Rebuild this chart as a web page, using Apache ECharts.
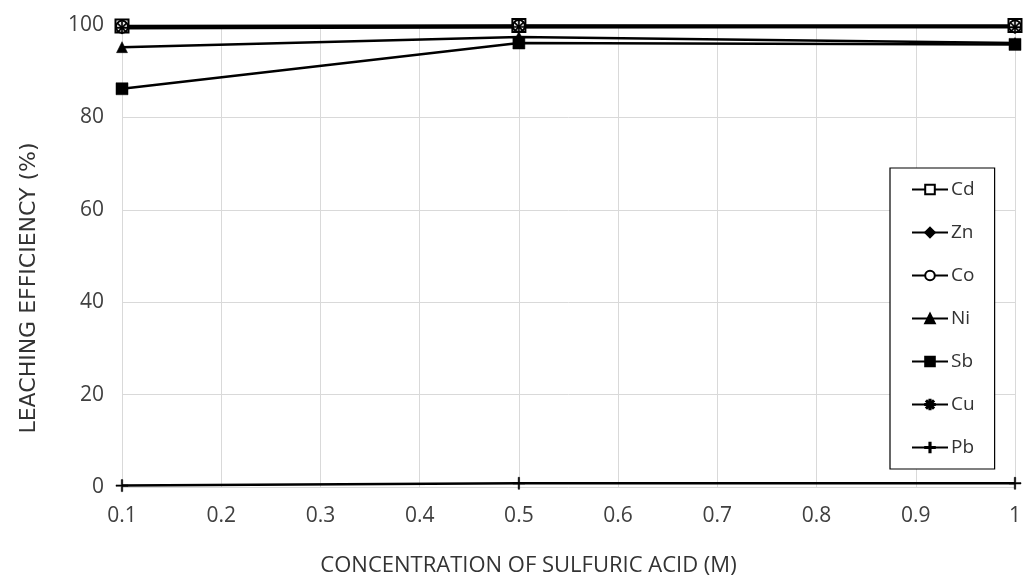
<!DOCTYPE html>
<html>
<head>
<meta charset="utf-8">
<script src="https://cdn.jsdelivr.net/npm/echarts@6/dist/echarts.min.js"></script>
<style>html,body{margin:0;padding:0;background:#fff}#c{width:1024px;height:582px}</style>
</head>
<body>
<div id="c"></div>
<script>
const xValues = [0.1, 0.5, 1];
const seriesNames = ['Cd', 'Zn', 'Co', 'Ni', 'Sb', 'Cu', 'Pb'];
const cd = [99.8, 99.9, 99.9];
const zn = [99.3, 99.5, 99.6];
const co = [99.6, 99.8, 99.7];
const ni = [95.2, 97.4, 96.1];
const sb = [86.2, 96.1, 95.8];
const cu = [99.4, 99.6, 99.5];
const pb = [0.3, 0.8, 0.8];
const yTicks = [0, 20, 40, 60, 80, 100];

const plus = 'path://M-0.12,-1H0.12V-0.12H1V0.12H0.12V1H-0.12V0.12H-1V-0.12H-0.12Z';
const star = 'path://M-0.12,-1H0.12V-0.12H1V0.12H0.12V1H-0.12V0.12H-1V-0.12H-0.12Z M-0.78,-0.62L-0.62,-0.78L0,-0.16L0.62,-0.78L0.78,-0.62L0.16,0L0.78,0.62L0.62,0.78L0,0.16L-0.62,0.78L-0.78,0.62L-0.16,0Z';

const styles = {
  Cd: {symbol: 'rect', fill: '#fff', size: 13},
  Zn: {symbol: 'diamond', fill: '#000', size: 11},
  Co: {symbol: 'circle', fill: '#fff', size: 12},
  Ni: {symbol: 'triangle', fill: '#000', size: 11},
  Sb: {symbol: 'rect', fill: '#000', size: 12},
  Cu: {symbol: star, fill: '#000', size: 12},
  Pb: {symbol: plus, fill: '#000', size: 12}
};
const dataMap = {Cd: cd, Zn: zn, Co: co, Ni: ni, Sb: sb, Cu: cu, Pb: pb};

const series = seriesNames.map(n => ({
  name: n,
  type: 'line',
  data: xValues.map((x, i) => [x, dataMap[n][i]]),
  symbol: styles[n].symbol,
  symbolSize: styles[n].size,
  showAllSymbol: true,
  lineStyle: {color: '#000', width: 2.5},
  itemStyle: {color: styles[n].fill, borderColor: '#000', borderWidth: (styles[n].fill === '#fff') ? 2 : 0.5},
  emphasis: {disabled: true},
  z: 3
}));

const chart = echarts.init(document.getElementById('c'), null, {renderer: 'canvas'});
chart.setOption({
  animation: false,
  backgroundColor: '#fff',
  textStyle: {fontFamily: 'Open Sans'},
  grid: {left: 122, right: 8, top: 25, bottom: 95},
  legend: {
    orient: 'vertical',
    left: 890, top: 168,
    data: seriesNames,
    itemWidth: 36, itemHeight: 12, itemGap: 24,
    padding: [12, 20, 12, 21],
    borderColor: '#000', borderWidth: 1.2, borderRadius: 0,
    backgroundColor: '#fff',
    textStyle: {fontSize: 19, color: '#333', fontFamily: 'Open Sans', padding: [0, 0, 0, -2]},
    lineStyle: {color: '#000', width: 2}
  },
  xAxis: {
    type: 'value', min: 0.1, max: 1, interval: 0.1,
    name: 'CONCENTRATION OF SULFURIC ACID (M)',
    nameLocation: 'middle', nameGap: 68,
    nameTextStyle: {fontSize: 22, color: '#333', fontFamily: 'Open Sans', padding: [0, 80, 0, 0]},
    axisLine: {show: false},
    axisTick: {show: false},
    axisLabel: {fontSize: 21, color: '#404040', margin: 19, formatter: v => String(+v.toFixed(1))},
    splitLine: {show: true, lineStyle: {color: '#d9d9d9', width: 1}}
  },
  yAxis: {
    type: 'value', min: yTicks[0], max: yTicks[yTicks.length - 1], interval: 20,
    name: 'LEACHING EFFICIENCY (%)',
    nameLocation: 'middle', nameGap: 82, nameRotate: 90,
    nameTextStyle: {fontSize: 22, color: '#333', fontFamily: 'DejaVu Sans', padding: [0, 64, 0, 0]},
    axisLine: {show: false},
    axisTick: {show: false},
    axisLabel: {fontSize: 21, color: '#404040', margin: 18},
    splitLine: {show: true, lineStyle: {color: '#d9d9d9', width: 1}}
  },
  series: series
});
</script>
</body>
</html>
